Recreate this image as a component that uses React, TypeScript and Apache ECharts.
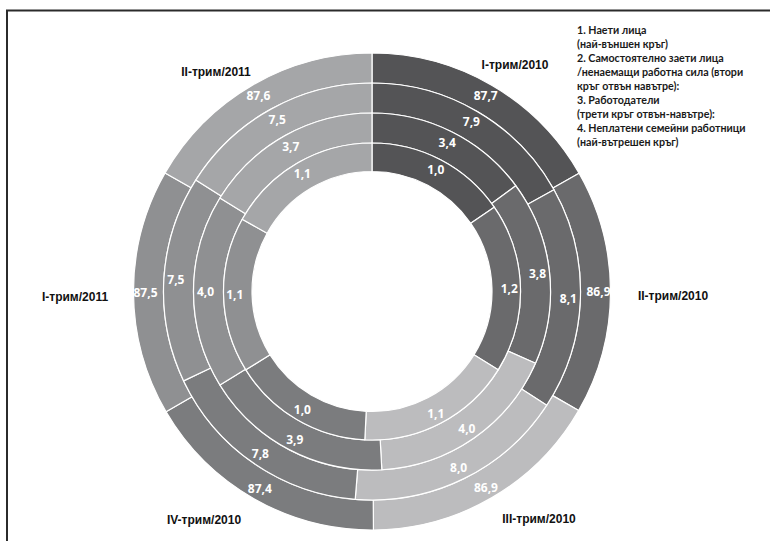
import React, { useEffect, useRef } from "react";
import * as echarts from "echarts";

const categories = ["I-трим/2010", "II-трим/2010", "III-трим/2010", "IV-трим/2010", "I-трим/2011", "II-трим/2011"];
const employed = [87.7, 86.9, 86.9, 87.4, 87.5, 87.6];
const selfEmployed = [7.9, 8.1, 8.0, 7.8, 7.5, 7.5];
const employers = [3.4, 3.8, 4.0, 3.9, 4.0, 3.7];
const unpaidFamily = [1.0, 1.2, 1.1, 1.0, 1.1, 1.1];

const legendLines = [
  "1. Наети лица",
  "(най-външен кръг)",
  "2. Самостоятелно заети лица",
  "/ненаемащи работна сила (втори",
  "кръг отвън навътре):",
  "3. Работодатели",
  "(трети кръг отвън-навътре):",
  "4. Неплатени семейни работници",
  "(най-вътрешен кръг)",
];

const colors = ["#545456", "#6a6a6c", "#bcbcbe", "#7b7c7e", "#8f9092", "#a5a6a8"];
const categoryLabelPos = [
  [515, 65],
  [673, 296],
  [539, 519],
  [204, 520],
  [75, 297],
  [216, 72],
];

const CENTER: [number, number] = [372, 291.5];
const rings: [number[], [number, number]][] = [
  [employed, [208.5, 238.5]],
  [selfEmployed, [178.5, 208.5]],
  [employers, [148.5, 178.5]],
  [unpaidFamily, [120, 148.5]],
];

export default function App() {
  const ref = useRef<HTMLDivElement>(null);
  useEffect(() => {
    if (!ref.current) return;
    const chart = echarts.init(ref.current, null, { renderer: "svg" });
    const series = rings.map(([vals, radius], i) => ({
      type: "pie",
      name: "ring" + i,
      center: CENTER,
      radius,
      startAngle: 90,
      clockwise: true,
      avoidLabelOverlap: false,
      silent: true,
      itemStyle: { borderColor: "#ffffff", borderWidth: 1.2 },
      label: {
        show: true,
        position: "inside",
        color: "#ffffff",
        fontFamily: "Open Sans",
        fontWeight: "bold",
        fontSize: 12,
        formatter: (p: any) => Number(p.value).toFixed(1).replace(".", ","),
      },
      labelLine: { show: false },
      data: vals.map((v, j) => ({ name: categories[j], value: v, itemStyle: { color: colors[j] } })),
    }));
    const graphic: any[] = [
      { type: "line", shape: { x1: 6, y1: 10.5, x2: 770, y2: 10.5 }, style: { stroke: "#2b2b2b", lineWidth: 2 } },
      { type: "line", shape: { x1: 7, y1: 10, x2: 7, y2: 541 }, style: { stroke: "#2b2b2b", lineWidth: 2 } },
      ...categories.map((c, j) => ({
        type: "text",
        x: categoryLabelPos[j][0],
        y: categoryLabelPos[j][1],
        style: {
          text: c,
          fill: "#111111",
          font: "bold 12px 'Liberation Sans', Arial, sans-serif",
          textAlign: "center",
          textVerticalAlign: "middle",
        },
      })),
      ...legendLines.map((t, k) => ({
        type: "text",
        x: 577,
        y: 29.5 + k * 14,
        style: {
          text: t,
          fill: "#1a1a1a",
          font: "bold 10.7px Lato, sans-serif",
          textAlign: "left",
          textVerticalAlign: "middle",
        },
      })),
    ];
    chart.setOption({
      animation: false,
      backgroundColor: "#ffffff",
      series,
      graphic,
    });
    return () => chart.dispose();
  }, []);
  return <div ref={ref} style={{ position: "fixed", left: 0, top: 0, width: 770, height: 541 }} />;
}
